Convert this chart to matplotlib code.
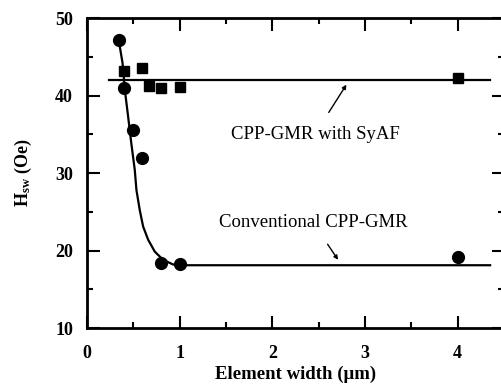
import matplotlib
matplotlib.use('Agg')
import matplotlib.pyplot as plt
from matplotlib.ticker import MultipleLocator

plt.rcParams['font.family'] = ['Liberation Serif', 'DejaVu Serif']
plt.rcParams['mathtext.fontset'] = 'custom'
plt.rcParams['mathtext.rm'] = 'Liberation Serif:bold'
plt.rcParams['mathtext.it'] = 'Liberation Serif:bold'

# conventional CPP-GMR (circles)
conv_x = [0.35, 0.4, 0.5, 0.6, 0.8, 1.0, 4.0]
conv_y = [47.1, 41.0, 35.5, 31.9, 18.4, 18.3, 19.2]
# CPP-GMR with SyAF (squares)
syaf_x = [0.4, 0.6, 0.67, 0.8, 1.0, 4.0]
syaf_y = [43.1, 43.6, 41.2, 41.0, 41.1, 42.3]

# guide curves
conv_fit_x = [0.35, 0.385, 0.41, 0.445, 0.48, 0.517, 0.535, 0.571, 0.607,
              0.661, 0.733, 0.823, 0.93, 1.0, 4.35]
conv_fit_y = [46.7, 44.2, 40.7, 37.3, 33.8, 30.4, 27.8, 25.2, 23.1,
              21.4, 19.85, 18.8, 18.2, 18.1, 18.1]
syaf_fit_x = [0.24, 4.35]
syaf_fit_y = [42.0, 42.0]

fig = plt.figure(figsize=(5.02, 3.88), dpi=100)
ax = fig.add_axes([0.173, 0.1546, 0.831, 0.799])

ax.plot(conv_fit_x, conv_fit_y, 'k-', lw=1.6, solid_joinstyle='round')
ax.plot(syaf_fit_x, syaf_fit_y, 'k-', lw=1.6)
ax.plot(conv_x, conv_y, 'ko', ms=8.5)
ax.plot(syaf_x, syaf_y, 'ks', ms=7)

ax.set_xlim(0, 4.5)
ax.set_ylim(10, 50)
ax.xaxis.set_major_locator(MultipleLocator(1))
ax.xaxis.set_minor_locator(MultipleLocator(0.5))
ax.yaxis.set_major_locator(MultipleLocator(10))
ax.yaxis.set_minor_locator(MultipleLocator(5))
ax.tick_params(which='both', direction='in', top=True, right=True, width=1.5,
               labelsize=13)
ax.tick_params(axis='x', pad=12)
ax.tick_params(axis='y', pad=10)
ax.tick_params(which='major', length=9)
ax.tick_params(which='minor', length=4.5)
for lab in ax.get_xticklabels() + ax.get_yticklabels():
    lab.set_fontweight('bold')
for s in ax.spines.values():
    s.set_linewidth(2)

ax.set_xlabel('Element width (\u03bcm)', fontsize=13.5, fontweight='bold', labelpad=3)
ax.set_ylabel('H$_{sw}$ (Oe)', fontsize=13, fontweight='bold', labelpad=15)

ax.annotate('CPP-GMR with SyAF', xy=(2.8, 41.4), xytext=(2.46, 35.0),
            ha='center', va='center', fontsize=13.5,
            arrowprops=dict(arrowstyle='-|>', color='k', lw=1, shrinkA=9,
                            shrinkB=0, mutation_scale=6))
ax.annotate('Conventional CPP-GMR', xy=(2.71, 18.8), xytext=(2.44, 23.6),
            ha='center', va='center', fontsize=13.5,
            arrowprops=dict(arrowstyle='-|>', color='k', lw=1, shrinkA=9,
                            shrinkB=0, mutation_scale=6))

fig.savefig('out.png', dpi=100)
